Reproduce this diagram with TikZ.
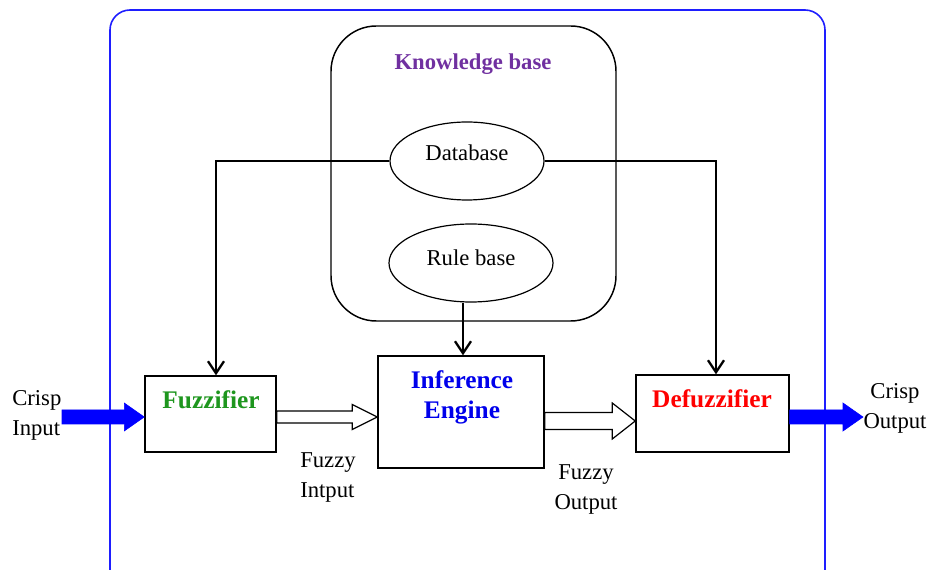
\documentclass[tikz,border=0pt]{standalone}
\usepackage{fontspec}
\setmainfont{Liberation Serif}
\usetikzlibrary{arrows.meta,calc,shapes.geometric}
\definecolor{kbpurple}{RGB}{112,48,160}
\definecolor{fzgreen}{RGB}{30,150,30}
\definecolor{ieblue}{RGB}{0,0,235}
\definecolor{dfred}{RGB}{255,0,0}
\definecolor{frameblue}{RGB}{30,30,255}
\newcommand\blockarr[6]{%
  \draw[#1] let \p1=#2, \p2=#3 in
    (\x1,\y1+#4) -- (\x2-#6,\y1+#4) -- (\x2-#6,\y1+#5) -- (\x2,\y1)
    -- (\x2-#6,\y1-#5) -- (\x2-#6,\y1-#4) -- (\x1,\y1-#4) -- cycle;}
\tikzset{
  txt/.style={font=\fontsize{17}{22.5}\selectfont, inner sep=0pt, align=center},
  btxt/.style={txt, font=\fontsize{17}{22.5}\selectfont\bfseries},
  blocktxt/.style={txt, font=\fontsize{19}{22.5}\selectfont\bfseries},
  blockbox/.style={draw, line width=1.1pt, rectangle, inner sep=0pt},
  oval/.style={draw, line width=0.9pt, ellipse, inner sep=0pt, font=\fontsize{17}{22.5}\selectfont, text height=12pt},
  feed/.style={line width=1.5pt, -{Straight Barb[length=9pt,width=12pt,line width=1.7pt]}},
  bluearr/.style={fill=blue, draw=blue, line width=0.4pt},
  hollowarr/.style={fill=white, draw=black, line width=0.9pt, line join=miter},
}
\begin{document}
\begin{tikzpicture}[x=0.75pt,y=-0.75pt]
\useasboundingbox (0,0) rectangle (929,570);
\begin{scope}
\clip (0,0) rectangle (929,570);
\draw[frameblue, line width=1.2pt, rounded corners=15pt] (110,10) rectangle (825,592);
\end{scope}

% knowledge base
\node[draw, line width=1.1pt, rounded corners=34pt, minimum width=213.75pt, minimum height=221.25pt, inner sep=0pt] (kb) at (473.5,173.5) {};
\node[btxt, text=kbpurple] (kbt) at (473,64.5) {Knowledge base};
\node[oval, minimum width=115.5pt, minimum height=58.5pt, text depth=12.5pt] (db) at (467,161) {Database};
\node[oval, minimum width=123pt, minimum height=58.5pt, text depth=8pt] (rb) at (471,263) {Rule base};

% blocks
\node[blockbox, minimum width=98.25pt, minimum height=57pt] (fuzz) at (210.5,414) {};
\node[blocktxt, text=fzgreen] (fuzzt) at (211,400) {Fuzzifier};
\node[blockbox, minimum width=124.5pt, minimum height=84pt] (inf) at (461,412) {};
\node[blocktxt, text=ieblue] (inft) at (462,397) {Inference\\Engine};
\node[blockbox, minimum width=114.75pt, minimum height=57.75pt] (defz) at (712.5,413.5) {};
\node[blocktxt, text=dfred] (defzt) at (712,399) {Defuzzifier};

% labels
\node[txt, align=left, anchor=west] (cin) at (12,415) {Crisp\\Input};
\node[txt, align=left, anchor=west] (fin) at (300,477) {Fuzzy\\Intput};
\node[txt] (fout) at (586,489) {Fuzzy\\Output};
\node[txt] (cout) at (895,408) {Crisp\\Output};

% feed lines
\coordinate (fa) at ($(fuzz.north)+(5.5,0)$);
\coordinate (da) at ($(defz.north)+(3.5,0)$);
\draw[feed] (db.west) -| (fa);
\draw[feed] (db.east) -| (da);
\coordinate (rbs) at ($(rb.south)+(-8,0)$);
\draw[feed, line width=2.2pt] (rbs) -- (rbs |- inf.north);

% block arrows
\coordinate (cinS) at (62,417);
\blockarr{bluearr}{(cinS)}{($(fuzz.west)+(0,3)$)}{5.25pt}{10.5pt}{15pt}
\blockarr{hollowarr}{($(fuzz.east)+(0,3)$)}{($(inf.west)+(0,6)$)}{4.5pt}{9.4pt}{18.75pt}
\blockarr{hollowarr}{($(inf.east)+(0,9)$)}{($(defz.west)+(0,7.5)$)}{6.4pt}{13.5pt}{17.25pt}
\coordinate (coutE) at (863,417);
\blockarr{bluearr}{($(defz.east)+(0,3.5)$)}{(coutE)}{5.25pt}{10.5pt}{15pt}
\end{tikzpicture}
\end{document}
